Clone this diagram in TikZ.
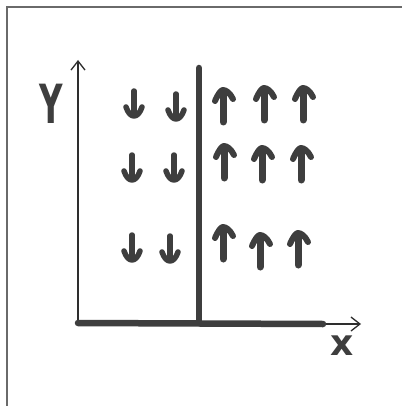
\documentclass[tikz,border=0pt]{standalone}
\usepackage{fontspec}
\setmainfont{DejaVu Sans}
\usetikzlibrary{arrows.meta}
\definecolor{ink}{HTML}{3E3E3E}
\definecolor{pen}{HTML}{2E2E2E}
\definecolor{framegray}{HTML}{6A6A6A}
\tikzset{
  thinaxis/.style={draw=pen, line width=1.3pt, -{Straight Barb[length=9pt,width=14pt,line width=1.3pt]}},
  thickrule/.style={draw=ink, line width=6.5pt, line cap=round},
  shaft/.style={draw=ink, line cap=round, line join=round},
  label/.style={text=ink, font=\bfseries, inner sep=0pt},
  % up arrow anchored at the foot of its shaft
  uparrow/.pic={
    \draw[shaft, line width=7pt] (0,0) -- (0,-30);
    \draw[shaft, line width=6pt] (-8,-21) .. controls (-5,-28) and (-2,-32) .. (0,-32)
                                         .. controls (3,-32) and (7,-29) .. (10,-23);
  },
  % down arrow anchored at the head tip
  downarrow/.pic={
    \draw[shaft, line width=5.5pt] (0,-2) -- (0,-25);
    \draw[shaft, line width=5.5pt] (-8,-9) .. controls (-6,-3) and (-3,0) .. (0,0)
                                           .. controls (3,0) and (6,-3) .. (8,-9);
  }
}
\begin{document}
\begin{tikzpicture}[x=1pt,y=-1pt]
  \useasboundingbox (0,0) rectangle (402,406);
  \fill[white] (0,0) rectangle (402,406);
  % frame of the panel
  \draw[framegray, line width=1.2pt] (7,406) -- (7,7) -- (402,7);

  % axes
  \coordinate (O) at (78,323);
  \coordinate (ytip) at (78,60);
  \coordinate (xend) at (323,324);
  \coordinate (xtip) at (361,324);
  \coordinate (wallbottom) at (199,323);
  \coordinate (walltop) at (199,68);
  \draw[thinaxis] (O) -- (ytip);
  \draw[thinaxis] (xend) -- (xtip);
  \draw[thickrule] (O) -- (xend);
  \draw[thickrule] (wallbottom) -- (walltop);

  \node[label, font=\bfseries\fontsize{54}{54}\selectfont, xscale=0.6] (ylab) at (51,104) {Y};
  \node[label, font=\bfseries\fontsize{36}{36}\selectfont] (xlab) at (342,346) {x};

  % down arrows, left of the wall (placed at head tip)
  \pic at (134,116) {downarrow};
  \pic at (176,119) {downarrow};
  \pic at (132,180) {downarrow};
  \pic at (174,180) {downarrow};
  \pic at (132,260) {downarrow};
  \pic at (170,261) {downarrow};

  % up arrows, right of the wall (placed at shaft foot)
  \pic at (223,122) {uparrow};
  \pic at (264,120) {uparrow};
  \pic at (303,120) {uparrow};
  \pic at (224,178) {uparrow};
  \pic at (262,180) {uparrow};
  \pic at (301,180) {uparrow};
  \pic at (223,259) {uparrow};
  \pic at (260,267) {uparrow};
  \pic at (298,265) {uparrow};
\end{tikzpicture}
\end{document}
